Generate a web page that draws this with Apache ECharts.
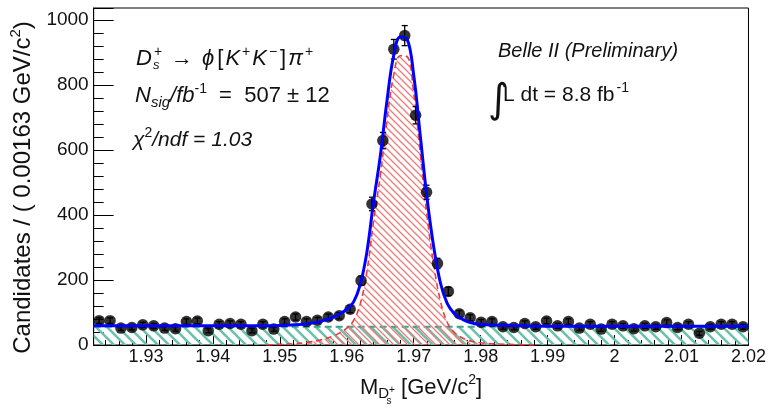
<!DOCTYPE html>
<html><head><meta charset="utf-8">
<script src="https://cdn.jsdelivr.net/npm/echarts@6/dist/echarts.min.js"></script>
<style>html,body{margin:0;padding:0;background:#fff}#c{width:769px;height:411px}</style>
</head><body><div id="c"></div>
<script>
// ---- data ----
const binLow = 1.9222;      // lower edge of the histogram range
const binWidth = 0.00163;   // GeV/c^2 per bin (from axis title)
const counts = [75,75,52,54,62,59,52,50,72,74, 44,64,66,64,44,64,49,72,86,72,
                76,86,90,110,198,434,629,910,952,707, 470,251,165,96,84,70,72,56,54,66,
                56,74,59,72,52,64,49,64,59,50, 59,56,69,54,64,36,56,64,64,56];
const errors = [8.7,8.7,7.2,7.3,7.9,7.7,7.2,7.1,8.5,8.6, 6.6,8.0,8.1,8.0,6.6,8.0,7.0,8.5,9.3,8.5,
                8.7,9.3,9.5,10.5,14.1,20.8,25.1,30.2,30.9,26.6, 21.7,15.8,12.8,9.8,9.2,8.4,8.5,7.5,7.3,8.1,
                7.5,8.6,7.7,8.5,7.2,8.0,7.0,8.0,7.7,7.1, 7.7,7.5,8.3,7.3,8.0,6.0,7.5,8.0,8.0,7.5];
const fitX     = [1.9222,1.930,1.940,1.945,1.950,1.953,1.955,1.956,1.957,1.958,1.959,1.960,1.961,1.962,1.963,1.964,1.965,1.966,1.967,1.968,1.969,1.970,1.971,1.972,1.973,1.974,1.975,1.976,1.977,1.978,1.979,1.980,1.985,1.990,2.000,2.010,2.020];
const fitTotal = [59,59,59,59,60,63,68,72,78,86,96,110,132,185,285,440,580,750,890,948,942,830,640,450,300,190,128,98,82,72,66,63,60,58,58,58,58];
const sigX = [1.948,1.950,1.952,1.954,1.956,1.958,1.959,1.960,1.961,1.962,1.963,1.964,1.965,1.966,1.967,1.968,1.969,1.970,1.971,1.972,1.973,1.974,1.975,1.976,1.977,1.978,1.980,1.984,1.988];
const sigY = [0,2,4,8,15,28,38,52,75,125,225,380,520,690,830,890,888,775,585,395,245,135,70,40,25,15,7,2,0];
const bkgX = [1.9222, 2.02];
const bkgY = [56, 56];
const xTickLabels = ['1.93','1.94','1.95','1.96','1.97','1.98','1.99','2','2.01','2.02'];
const yTickLabels = ['0','200','400','600','800','1000'];

function hatch(color, size, lw) {
  const c = document.createElement('canvas');
  c.width = size; c.height = size;
  const ctx = c.getContext('2d');
  ctx.strokeStyle = color; ctx.lineWidth = lw;
  ctx.beginPath();
  ctx.moveTo(-2, -2); ctx.lineTo(size + 2, size + 2);
  ctx.moveTo(-2, size - 2); ctx.lineTo(2, size + 2);
  ctx.moveTo(size - 2, -2); ctx.lineTo(size + 2, 2);
  ctx.stroke();
  return c;
}
function pickLabel(list, v) {
  for (const t of list) if (Math.abs(parseFloat(t) - v) < 1e-7) return t;
  return '';
}

const FONT = "'Liberation Sans', Arial, Helvetica, sans-serif";
const INK = '#111';
const centers = counts.map((c, i) => binLow + binWidth * (i + 0.5));
const pts = counts.map((c, i) => [centers[i], c]);
const errData = counts.map((c, i) => [centers[i], c - errors[i], c + errors[i]]);

const chart = echarts.init(document.getElementById('c'), null, {renderer: 'canvas'});
chart.setOption({
  animation: false,
  backgroundColor: '#fff',
  grid: {left: 82, right: 17, top: 8, bottom: 57, show: true, borderColor: '#000', borderWidth: 1},
  xAxis: {
    type: 'value', min: 1.9222, max: 2.02, splitNumber: 10,
    axisLine: {lineStyle: {color: '#000', width: 1}},
    axisTick: {inside: true, length: 10, lineStyle: {color: '#000'}},
    minorTick: {show: true, splitNumber: 5, length: 5, lineStyle: {color: '#000'}},
    splitLine: {show: false}, minorSplitLine: {show: false},
    axisLabel: {fontFamily: FONT, fontSize: 18, color: INK, margin: 3,
      formatter: v => pickLabel(xTickLabels, v)},
    name: '{a|M}{d|D}{s|s}{p|+}{a| [GeV/c}{q|2}{a|]}',
    nameLocation: 'middle', nameGap: 25,
    nameTextStyle: {fontFamily: FONT, fontSize: 22, color: INK,
      rich: {
        a: {fontFamily: FONT, fontSize: 22, color: INK},
        d: {fontFamily: FONT, fontSize: 15, color: INK, padding: [12, 0, 0, 0]},
        s: {fontFamily: FONT, fontSize: 10, color: INK, padding: [26, 0, 0, 0], width: 0},
        p: {fontFamily: FONT, fontSize: 10, color: INK, padding: [4, 0, 0, 0]},
        q: {fontFamily: FONT, fontSize: 14, color: INK, padding: [0, 0, 16, 0]}
      }}
  },
  yAxis: {
    type: 'value', min: 0, max: 1037, splitNumber: 5,
    axisLine: {show: true, lineStyle: {color: '#000', width: 1}},
    axisTick: {show: true, inside: true, length: 20, lineStyle: {color: '#000'}},
    minorTick: {show: true, splitNumber: 5, length: 10, lineStyle: {color: '#000'}},
    splitLine: {show: false}, minorSplitLine: {show: false},
    axisLabel: {fontFamily: FONT, fontSize: 19, color: INK, margin: 5,
      formatter: v => pickLabel(yTickLabels, v)},
    name: '{a|Candidates / ( 0.00163 GeV/c}{q|2}{a|)}',
    nameLocation: 'middle', nameGap: 40,
    nameTextStyle: {fontFamily: FONT, fontSize: 24, color: INK, padding: [0, 22, 0, 0],
      rich: {
        a: {fontFamily: FONT, fontSize: 24, color: INK},
        q: {fontFamily: FONT, fontSize: 15, color: INK, padding: [0, 0, 16, 0]}
      }}
  },
  series: [
    {type: 'line', name: 'bkg', data: bkgX.map((x, i) => [x, bkgY[i]]), showSymbol: false, z: 1,
     lineStyle: {color: '#3fa38d', width: 2, type: [7, 4]},
     areaStyle: {color: {image: hatch('#6cc0ad', 11, 2.6), repeat: 'repeat'}, opacity: 1}},
    {type: 'line', name: 'sig', data: sigX.map((x, i) => [x, sigY[i]]), showSymbol: false, z: 2,
     smooth: 0.4,
     lineStyle: {color: '#ee3b3b', width: 1.6, type: [6, 4]},
     areaStyle: {color: {image: hatch('#f07a7a', 7, 1.3), repeat: 'repeat'}, opacity: 1}},
    {type: 'custom', name: 'err', data: errData, z: 3, encode: {x: 0, y: [1, 2]},
     renderItem: (params, api) => {
       const a = api.coord([api.value(0), api.value(1)]);
       const b = api.coord([api.value(0), api.value(2)]);
       const st = {stroke: '#000', lineWidth: 1.3};
       return {type: 'group', children: [
         {type: 'line', shape: {x1: a[0], y1: a[1], x2: b[0], y2: b[1]}, style: st},
         {type: 'line', shape: {x1: b[0] - 3, y1: b[1], x2: b[0] + 3, y2: b[1]}, style: st},
         {type: 'line', shape: {x1: a[0] - 3, y1: a[1], x2: a[0] + 3, y2: a[1]}, style: st}
       ]};
     }},
    {type: 'scatter', name: 'data', data: pts, symbol: 'circle', symbolSize: 11.5, z: 4,
     itemStyle: {color: '#000'}},
    {type: 'line', name: 'fit', data: fitX.map((x, i) => [x, fitTotal[i]]), showSymbol: false, z: 5,
     smooth: 0.4,
     lineStyle: {color: '#0000ff', width: 3}}
  ],
  graphic: [
    {type: 'text', x: 135, y: 59, z: 10, style: {
      text: '{i|D}{s|s}{p|+}{w|→}{i|ϕ}{b|[}{i|K}{p|+}{i|K}{p|−}{b|]}{i|π}{p|+}',
      verticalAlign: 'middle', align: 'left', fill: INK,
      rich: {
        i: {fontFamily: FONT, fontStyle: 'italic', fontSize: 22, fill: INK, padding: [0, 1, 0, 1]},
        b: {fontFamily: FONT, fontSize: 22, fill: INK, padding: [0, 1, 0, 2]},
        w: {fontFamily: FONT, fontSize: 22, fill: INK, padding: [0, 8, 0, 8]},
        s: {fontFamily: FONT, fontStyle: 'italic', fontSize: 13, fill: INK, padding: [13, 0, 0, 0], width: 0},
        p: {fontFamily: FONT, fontSize: 14, fill: INK, padding: [0, 1, 13, 1]}
      }}},
    {type: 'text', x: 135, y: 96, z: 10, style: {
      text: '{i|N}{s|sig}{i|/fb}{p|-1}{a| =  507 ± 12}',
      verticalAlign: 'middle', align: 'left', fill: INK,
      rich: {
        i: {fontFamily: FONT, fontStyle: 'italic', fontSize: 22, fill: INK},
        a: {fontFamily: FONT, fontSize: 22, fill: INK, padding: [0, 0, 0, 6]},
        s: {fontFamily: FONT, fontStyle: 'italic', fontSize: 15, fill: INK, padding: [13, 0, 0, 0]},
        p: {fontFamily: FONT, fontSize: 14, fill: INK, padding: [0, 0, 13, 0]}
      }}},
    {type: 'text', x: 133, y: 140, z: 10, style: {
      text: '{i|χ}{p|2}{i|/ndf = 1.03}',
      verticalAlign: 'middle', align: 'left', fill: INK,
      rich: {
        i: {fontFamily: FONT, fontStyle: 'italic', fontSize: 21, fill: INK},
        p: {fontFamily: FONT, fontSize: 14, fill: INK, padding: [0, 0, 13, 0]}
      }}},
    {type: 'text', x: 498, y: 51, z: 10, style: {
      text: 'Belle II (Preliminary)', fontFamily: FONT, fontStyle: 'italic', fontSize: 20,
      fill: INK, verticalAlign: 'middle', align: 'left'}},
    {type: 'text', x: 488, y: 102, z: 10, style: {
      text: '∫', fontFamily: "'DejaVu Sans', sans-serif", fontSize: 40,
      fill: INK, verticalAlign: 'middle', align: 'left'}},
    {type: 'text', x: 503, y: 95, z: 10, style: {
      text: '{a|L dt = 8.8 fb}{p|-1}',
      verticalAlign: 'middle', align: 'left', fill: INK,
      rich: {
        a: {fontFamily: FONT, fontSize: 21, fill: INK},
        p: {fontFamily: FONT, fontSize: 14, fill: INK, padding: [0, 0, 13, 2]}
      }}}
  ]
});
</script></body></html>
